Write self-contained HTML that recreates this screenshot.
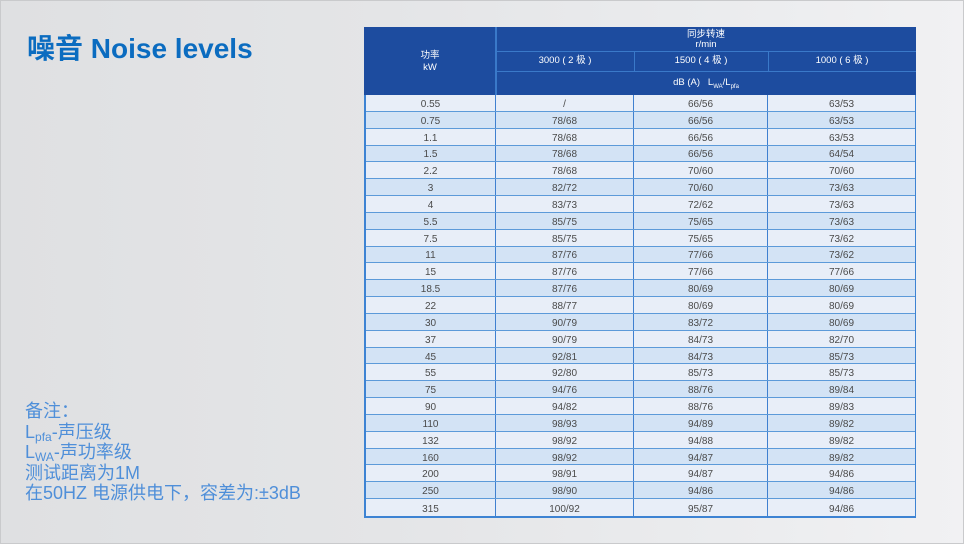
<!DOCTYPE html>
<html><head><meta charset="utf-8">
<style>
html,body{margin:0;padding:0;}
body{width:964px;height:544px;position:relative;overflow:hidden;
background:linear-gradient(90deg,#dfe0e2 0%,#e4e5e7 40%,#ecedef 80%,#f1f1f3 100%);
font-family:"Liberation Sans","Noto Sans CJK SC",sans-serif;}
.frame{position:absolute;left:0;top:0;width:962px;height:542px;border:1px solid #c9cacc;}
.title{position:absolute;left:27px;top:32px;font-size:28px;font-weight:bold;color:#0b6cc0;white-space:nowrap;line-height:34px;}
.notes{position:absolute;left:25px;top:401px;font-size:18px;color:#4f8fd9;line-height:20.6px;white-space:nowrap;}
.notes span{display:block;height:20.6px;}
.notes sub{font-size:12px;vertical-align:-3px;line-height:0;}
.hdr{position:absolute;left:364px;top:27px;width:552px;height:68px;background:#1d4c9f;}
.hl{position:absolute;background:#3a79c9;}
.ht{position:absolute;color:#fff;font-size:9.5px;text-align:center;line-height:11px;}
.body{position:absolute;left:364px;top:95px;width:552px;height:423px;display:grid;grid-template-rows:repeat(25,1fr);
box-sizing:border-box;border-left:2px solid #3d83d3;border-right:1px solid #3d83d3;border-bottom:2px solid #3d83d3;}
.r{display:flex;border-bottom:1px solid #5c9ad9;box-sizing:border-box;}
.r:last-child{border-bottom:none;}
.r.a{background:#e8eef8;}
.r.b{background:#d3e3f5;}
.r div{box-sizing:border-box;text-align:center;font-size:10px;color:#4a4a4a;display:flex;align-items:center;justify-content:center;border-right:1.5px solid #3f80d0;padding-top:3px;}
.r div:nth-child(1){width:130px;}
.r div:nth-child(2){width:138px;}
.r div:nth-child(3){width:134px;}
.r div:nth-child(4){flex:1;border-right:none;}
</style></head><body>
<div class="frame"></div>
<div class="title">噪音 Noise levels</div>
<div class="notes"><span>备注：</span><span>L<sub>pfa</sub>-声压级</span><span>L<sub>WA</sub>-声功率级</span><span>测试距离为1M</span><span>在50HZ 电源供电下，容差为:±3dB</span></div>

<div class="hdr"></div>
<div class="hl" style="left:495px;top:27px;width:1.5px;height:68px;"></div>
<div class="hl" style="left:496px;top:50.5px;width:420px;height:1px;"></div>
<div class="hl" style="left:496px;top:70.5px;width:420px;height:1px;"></div>
<div class="hl" style="left:633.5px;top:51px;width:1px;height:20px;"></div>
<div class="hl" style="left:767.5px;top:51px;width:1px;height:20px;"></div>
<div class="ht" style="left:364px;top:50px;width:132px;line-height:12px;">功率<br>kW</div>
<div class="ht" style="left:496px;top:30px;width:420px;line-height:9.5px;">同步转速<br>r/min</div>
<div class="ht" style="left:496px;top:55px;width:138px;">3000 ( 2 极 )</div>
<div class="ht" style="left:634px;top:55px;width:134px;">1500 ( 4 极 )</div>
<div class="ht" style="left:768px;top:55px;width:148px;">1000 ( 6 极 )</div>
<div class="ht" style="left:496px;top:77px;width:420px;">dB (A)&nbsp;&nbsp;&nbsp;L<sub style="font-size:6px;">WA</sub>/L<sub style="font-size:6px;">pfa</sub></div>

<div class="body">
<div class="r a"><div>0.55</div><div>/</div><div>66/56</div><div>63/53</div></div>
<div class="r b"><div>0.75</div><div>78/68</div><div>66/56</div><div>63/53</div></div>
<div class="r a"><div>1.1</div><div>78/68</div><div>66/56</div><div>63/53</div></div>
<div class="r b"><div>1.5</div><div>78/68</div><div>66/56</div><div>64/54</div></div>
<div class="r a"><div>2.2</div><div>78/68</div><div>70/60</div><div>70/60</div></div>
<div class="r b"><div>3</div><div>82/72</div><div>70/60</div><div>73/63</div></div>
<div class="r a"><div>4</div><div>83/73</div><div>72/62</div><div>73/63</div></div>
<div class="r b"><div>5.5</div><div>85/75</div><div>75/65</div><div>73/63</div></div>
<div class="r a"><div>7.5</div><div>85/75</div><div>75/65</div><div>73/62</div></div>
<div class="r b"><div>11</div><div>87/76</div><div>77/66</div><div>73/62</div></div>
<div class="r a"><div>15</div><div>87/76</div><div>77/66</div><div>77/66</div></div>
<div class="r b"><div>18.5</div><div>87/76</div><div>80/69</div><div>80/69</div></div>
<div class="r a"><div>22</div><div>88/77</div><div>80/69</div><div>80/69</div></div>
<div class="r b"><div>30</div><div>90/79</div><div>83/72</div><div>80/69</div></div>
<div class="r a"><div>37</div><div>90/79</div><div>84/73</div><div>82/70</div></div>
<div class="r b"><div>45</div><div>92/81</div><div>84/73</div><div>85/73</div></div>
<div class="r a"><div>55</div><div>92/80</div><div>85/73</div><div>85/73</div></div>
<div class="r b"><div>75</div><div>94/76</div><div>88/76</div><div>89/84</div></div>
<div class="r a"><div>90</div><div>94/82</div><div>88/76</div><div>89/83</div></div>
<div class="r b"><div>110</div><div>98/93</div><div>94/89</div><div>89/82</div></div>
<div class="r a"><div>132</div><div>98/92</div><div>94/88</div><div>89/82</div></div>
<div class="r b"><div>160</div><div>98/92</div><div>94/87</div><div>89/82</div></div>
<div class="r a"><div>200</div><div>98/91</div><div>94/87</div><div>94/86</div></div>
<div class="r b"><div>250</div><div>98/90</div><div>94/86</div><div>94/86</div></div>
<div class="r a"><div>315</div><div>100/92</div><div>95/87</div><div>94/86</div></div>
</div>
</body></html>
